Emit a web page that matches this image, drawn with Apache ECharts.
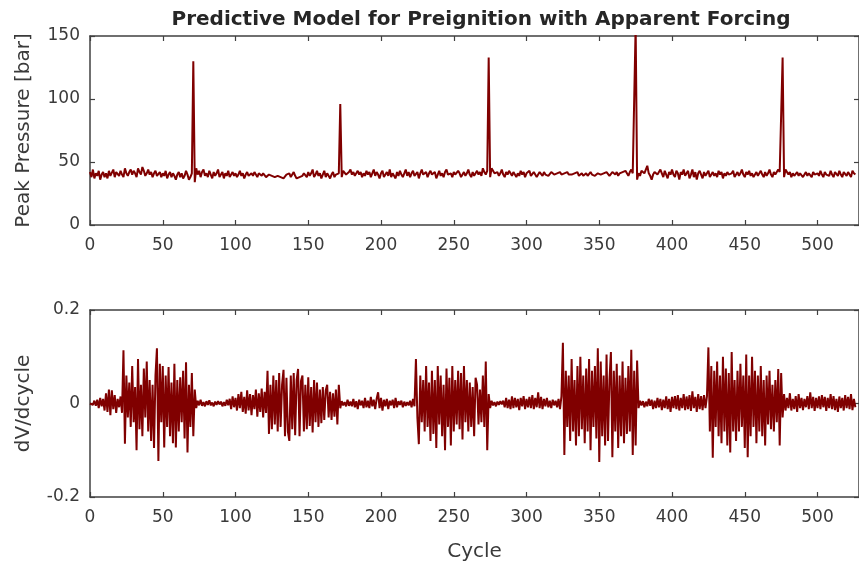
<!DOCTYPE html>
<html><head><meta charset="utf-8">
<script src="https://cdn.jsdelivr.net/npm/echarts@6/dist/echarts.min.js"></script>
<style>html,body{margin:0;padding:0;background:#fff}#c{width:859px;height:571px}</style>
</head><body><div id="c"></div>
<script>
const titleText = 'Predictive Model for Preignition with Apparent Forcing';
const topYName = 'Peak Pressure [bar]';
const bottomYName = 'dV/dcycle';
const xName = 'Cycle';
const xTicks = [0,50,100,150,200,250,300,350,400,450,500];
const yTicksTop = [0,50,100,150];
const yTicksBottom = [-0.2,0,0.2];

const pressure = [
42,38,44,37,41,39,43,36,40,42,
38,41,37,43,39,40,44,38,42,41,
39,43,40,38,45,41,39,42,44,40,
43,41,38,45,42,40,46,43,39,41,
44,40,42,38,41,43,39,40,42,38,
41,39,43,37,40,42,38,41,39,36,
40,42,38,41,37,39,43,40,36,38,
41,130,34,45,40,43,38,42,44,39,
41,38,43,40,37,42,39,41,44,38,
40,42,37,41,39,43,38,40,42,39,
41,38,40,43,39,41,37,40,42,39,
40,41,39,42,40,38,41,40,39,41,
40,38,39,40,41,39,40,38,37,39,
40,38,39,37,38,40,39,41,38,40,
42,39,37,36,38,37,39,41,40,38,
42,39,41,44,38,40,43,39,41,37,
40,43,38,41,39,37,40,42,38,40,
39,41,96,38,43,42,40,41,42,44,
40,42,39,41,43,40,42,38,41,39,
43,40,42,38,41,44,39,42,40,37,
41,43,38,40,42,39,44,38,41,40,
37,42,39,43,40,38,41,44,39,42,
38,41,43,39,40,42,37,41,44,40,
39,42,38,41,43,40,39,42,37,40,
43,39,41,38,42,44,40,39,41,38,
42,40,39,43,41,38,40,42,39,41,
44,40,38,42,39,41,43,40,42,39,
45,42,40,43,133,38,45,43,41,42,
42,39,41,44,40,38,42,40,43,41,
39,42,40,38,41,39,43,40,42,38,
41,40,43,39,40,42,41,38,40,42,
41,39,42,40,41,39,40,42,41,40,
39,41,40,42,40,39,41,40,42,40,
41,40,39,41,40,42,39,40,41,39,
40,41,39,40,42,40,41,39,40,41,
42,40,39,41,40,42,41,39,40,42,
41,40,42,39,41,40,42,41,43,42,
39,42,44,41,40,158,36,41,39,43,
42,41,44,47,41,39,36,40,42,43,
40,42,44,41,38,43,40,37,42,40,
44,40,38,43,41,36,42,40,44,39,
41,43,37,40,44,38,42,36,41,43,
40,37,42,39,41,43,38,40,42,39,
41,38,43,40,42,37,41,39,42,40,
39,41,43,38,40,42,39,41,44,40,
38,42,40,43,39,41,38,40,42,39,
41,43,40,38,42,39,41,44,40,38,
42,40,39,44,42,41,133,38,44,42,
40,42,38,41,39,40,42,39,41,40,
38,40,42,39,41,40,38,42,40,39,
41,39,43,40,38,42,40,41,39,43,
40,38,42,41,39,43,40,38,42,41,
39,42,40,38,43,41,40
];

const dvdc = [
0.000,0.004,-0.003,0.006,-0.005,0.008,-0.010,0.012,-0.006,0.010,
-0.015,0.022,-0.018,0.030,-0.025,0.028,-0.012,0.018,-0.020,0.010,
-0.008,0.015,-0.020,0.114,-0.086,0.060,-0.030,0.045,-0.050,0.080,
-0.040,0.035,-0.100,0.095,-0.055,0.040,-0.070,0.075,-0.030,0.090,
-0.060,0.050,-0.080,0.040,-0.095,0.060,0.118,-0.123,0.085,-0.040,
0.080,-0.094,0.060,-0.050,0.078,-0.070,0.045,-0.085,0.085,-0.094,
0.050,-0.060,0.056,-0.040,0.070,-0.075,0.088,-0.105,0.040,-0.050,
0.065,-0.070,0.030,-0.010,0.006,-0.004,0.008,-0.005,0.003,-0.006,
0.005,-0.003,0.007,-0.004,0.002,-0.006,0.004,-0.003,0.005,-0.002,
0.004,-0.006,0.003,-0.005,0.008,-0.004,0.010,-0.012,0.015,-0.008,
0.012,-0.015,0.020,-0.010,0.025,-0.018,0.014,-0.022,0.028,-0.015,
0.020,-0.025,0.018,-0.012,0.030,-0.028,0.022,-0.018,0.032,-0.030,
0.025,-0.020,0.070,-0.065,0.040,-0.055,0.060,-0.045,0.050,-0.060,
0.065,-0.050,0.040,0.072,-0.070,0.055,-0.060,-0.080,0.060,-0.055,
0.065,-0.068,0.050,0.074,-0.070,0.048,0.060,-0.060,0.040,-0.055,
0.056,-0.048,0.035,-0.062,0.050,-0.040,0.045,-0.050,0.030,-0.042,
0.035,-0.035,0.028,0.040,-0.030,0.025,-0.035,0.022,-0.028,0.030,
-0.045,0.040,-0.010,0.005,-0.004,0.003,-0.006,0.008,-0.005,0.004,
-0.006,0.010,-0.008,0.005,-0.012,0.008,-0.004,0.006,-0.010,0.012,
-0.008,0.006,-0.010,0.014,-0.006,0.008,-0.012,0.010,0.024,-0.010,
0.012,-0.015,0.008,-0.006,0.010,-0.012,0.006,-0.004,0.008,-0.010,
0.012,-0.008,0.005,-0.003,0.006,-0.008,0.004,-0.005,0.003,-0.004,
0.006,-0.008,0.010,-0.006,0.095,-0.030,-0.087,0.060,-0.040,0.050,
-0.060,0.080,-0.050,0.045,-0.080,0.070,-0.065,0.050,-0.095,0.080,
-0.045,0.060,-0.070,0.040,-0.100,0.075,-0.050,0.055,-0.090,0.080,
-0.060,0.050,-0.045,0.070,-0.055,0.065,-0.077,0.080,-0.040,0.050,
-0.060,0.045,-0.050,0.035,-0.070,0.055,0.040,-0.045,0.030,-0.040,
0.060,-0.050,0.090,-0.100,0.020,-0.010,0.006,-0.004,0.003,-0.006,
0.004,-0.003,0.005,-0.002,0.006,-0.008,0.012,-0.010,0.008,-0.012,
0.015,-0.010,0.012,-0.008,0.010,-0.014,0.012,-0.006,0.016,-0.012,
0.010,-0.008,0.014,-0.010,0.018,-0.012,0.012,-0.008,0.024,-0.010,
0.014,-0.012,0.010,-0.006,0.012,-0.008,0.006,-0.010,0.008,-0.004,
0.006,-0.008,0.010,-0.012,0.015,0.130,-0.110,0.070,-0.050,0.060,
-0.080,0.095,-0.060,0.050,-0.090,0.080,-0.070,0.100,-0.055,0.060,
-0.085,0.075,-0.060,0.095,-0.100,0.070,-0.050,0.080,-0.075,0.118,
-0.125,0.090,-0.070,0.060,-0.090,0.105,-0.080,0.050,0.110,-0.115,
0.070,-0.060,0.085,-0.095,0.060,-0.070,0.090,-0.085,0.055,-0.065,
0.080,-0.060,0.115,-0.110,0.070,-0.090,0.092,-0.010,0.006,-0.004,
0.005,-0.008,0.004,-0.006,0.010,-0.005,0.008,-0.012,0.006,-0.010,
0.012,-0.008,0.010,-0.014,0.008,-0.010,0.015,-0.012,0.010,-0.018,
0.014,-0.010,0.016,-0.012,0.018,-0.015,0.012,-0.010,0.020,-0.014,
0.015,-0.012,0.018,-0.016,0.026,-0.010,0.014,-0.018,0.020,-0.012,
0.016,-0.014,0.018,-0.010,0.015,0.120,-0.060,0.080,-0.116,0.070,
-0.050,0.090,-0.070,0.060,-0.085,0.100,-0.060,0.075,-0.090,0.065,
-0.105,0.110,-0.060,0.050,-0.080,0.070,-0.060,0.085,-0.050,0.060,
-0.095,0.105,-0.115,0.060,-0.070,0.100,-0.050,0.070,-0.085,0.060,
-0.060,0.080,-0.070,0.050,-0.090,0.060,-0.045,0.070,-0.055,0.040,
-0.060,0.050,-0.040,0.074,-0.090,0.065,-0.030,0.020,-0.015,0.012,
-0.010,0.022,-0.015,0.010,-0.012,0.016,-0.018,0.020,-0.010,0.012,
-0.014,0.010,-0.008,0.016,-0.012,0.024,-0.010,0.014,-0.016,0.012,
-0.010,0.015,-0.012,0.018,-0.008,0.014,-0.016,0.012,-0.010,0.020,
-0.012,0.016,-0.014,0.010,-0.018,0.015,-0.010,0.012,-0.015,0.018,
-0.010,0.014,-0.012,0.020,-0.014,0.010,-0.008
];

const FONT = "'DejaVu Sans', sans-serif";
const AX = '#404040';
const TXT = '#3a3a3a';
const LINE = '#800000';
const X_MAX = 528.5;

const topPts = pressure.map((v, i) => [i, v]);
const botPts = dvdc.map((v, i) => [i, v]);

function xAx(gridIndex, pos, showLabels) {
  return {
    type: 'value', gridIndex, position: pos, min: 0, max: X_MAX,
    axisLine: { show: true, onZero: false, lineStyle: { color: AX, width: 1.5 } },
    axisTick: { show: true, inside: true, length: 5, customValues: xTicks, lineStyle: { color: AX, width: 1.2 } },
    axisLabel: { show: showLabels, customValues: xTicks, color: TXT, fontSize: 17, fontFamily: FONT, margin: 12 },
    splitLine: { show: false }
  };
}
function yAx(gridIndex, pos, min, max, ticks, showLabels, name, gap, fmt) {
  return {
    type: 'value', gridIndex, position: pos, min, max,
    name: name || '', nameLocation: 'middle', nameGap: gap || 0, nameRotate: 90,
    nameTextStyle: { color: TXT, fontSize: 20, fontFamily: FONT },
    axisLine: { show: true, onZero: false, lineStyle: { color: AX, width: 1.5 } },
    axisTick: { show: true, inside: true, length: 5, customValues: ticks, lineStyle: { color: AX, width: 1.2 } },
    axisLabel: { show: showLabels, customValues: ticks, color: TXT, fontSize: 17, fontFamily: FONT, margin: 10, formatter: fmt },
    splitLine: { show: false }
  };
}

const chart = echarts.init(document.getElementById('c'), null, { renderer: 'canvas' });
chart.setOption({
  animation: false,
  backgroundColor: '#ffffff',
  title: {
    text: titleText, left: 476, top: 5, textAlign: 'center',
    textStyle: { color: '#262626', fontSize: 20, fontWeight: 'bold', fontFamily: FONT }
  },
  grid: [
    { left: 90, top: 36, right: -3, height: 189 },
    { left: 90, top: 310, right: -3, height: 187 }
  ],
  xAxis: [
    xAx(0, 'bottom', true),
    xAx(0, 'top', false),
    Object.assign(xAx(1, 'bottom', true), {
      name: xName, nameLocation: 'middle', nameGap: 45,
      nameTextStyle: { color: TXT, fontSize: 20, fontFamily: FONT }
    }),
    xAx(1, 'top', false)
  ],
  yAxis: [
    yAx(0, 'left', 0, 150, yTicksTop, true, topYName, 56, v => String(v)),
    yAx(0, 'right', 0, 150, yTicksTop, false),
    yAx(1, 'left', -0.2, 0.2, yTicksBottom, true, bottomYName, 56, v => (Math.abs(v) < 1e-9 ? '0' : String(v))),
    yAx(1, 'right', -0.2, 0.2, yTicksBottom, false)
  ],
  series: [
    { type: 'line', xAxisIndex: 0, yAxisIndex: 0, data: topPts, showSymbol: false, clip: true,
      lineStyle: { color: LINE, width: 2 }, itemStyle: { color: LINE } },
    { type: 'line', xAxisIndex: 2, yAxisIndex: 2, data: botPts, showSymbol: false, clip: true,
      lineStyle: { color: LINE, width: 2 }, itemStyle: { color: LINE } }
  ]
});
</script></body></html>
